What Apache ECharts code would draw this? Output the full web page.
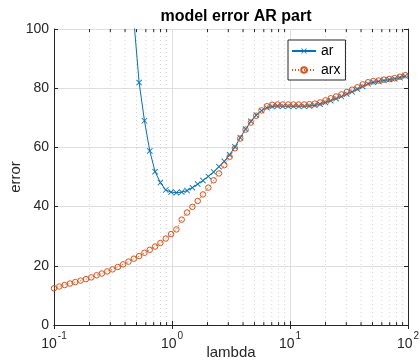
<!DOCTYPE html>
<html>
<head>
<meta charset="utf-8">
<script src="https://cdn.jsdelivr.net/npm/echarts@6/dist/echarts.min.js"></script>
<style>
  html, body { margin: 0; padding: 0; background: #fff; }
  #chart { width: 420px; height: 362px; }
</style>
</head>
<body>
<div id="chart"></div>
<script>
const lambda = [
  0.1, 0.1109, 0.1231, 0.1365, 0.1515, 0.168, 0.1865, 0.2069, 0.2295, 0.2546,
  0.2825, 0.3133, 0.3476, 0.3857, 0.4279, 0.4747, 0.5266, 0.5842, 0.6481, 0.719,
  0.7977, 0.885, 0.9822, 1.0897, 1.209, 1.341, 1.488, 1.651, 1.831, 2.032,
  2.254, 2.501, 2.774, 3.078, 3.414, 3.788, 4.202, 4.662, 5.172, 5.738,
  6.368, 7.066, 7.84, 8.694, 9.647, 10.7, 11.87, 13.17, 14.61, 16.21,
  17.99, 19.96, 22.14, 24.56, 27.26, 30.24, 33.55, 37.22, 41.29, 45.81,
  50.82, 56.39, 62.55, 69.4, 76.99, 85.42, 94.76
];

// "ar" error (values before lambda ~0.47 lie above the plotted range)
const arError = [
  null, null, null, null, null, null, null, null, null, null,
  null, null, null, null, 125, 103, 81.9, 69.0, 58.8, 51.8,
  48.1, 45.6, 44.9, 44.7, 44.9, 45.4, 46.4, 47.6, 48.8, 50.2,
  51.7, 53.5, 55.3, 57.5, 60.2, 63.3, 66.2, 68.8, 70.9, 72.4,
  73.4, 73.8, 74.0, 73.9, 73.9, 73.9, 73.9, 73.9, 74.0, 74.2,
  74.6, 75.2, 75.8, 76.5, 77.2, 78.0, 78.8, 79.7, 80.6, 81.5,
  82.0, 82.3, 82.6, 82.9, 83.2, 83.6, 84.1
];

// "arx" error
const arxError = [
  12.4, 13.0, 13.5, 14.0, 14.5, 15.0, 15.5, 16.1, 16.8, 17.4,
  18.1, 18.8, 19.6, 20.5, 21.4, 22.4, 23.3, 24.4, 25.4, 26.5,
  27.7, 29.2, 30.7, 32.3, 35.6, 38.0, 39.9, 41.9, 44.1, 46.4,
  48.9, 51.2, 54.0, 56.8, 59.7, 63.0, 66.0, 68.4, 70.7, 72.5,
  73.9, 74.4, 74.5, 74.5, 74.5, 74.5, 74.5, 74.5, 74.6, 74.8,
  75.2, 75.9, 76.6, 77.2, 77.9, 78.7, 79.5, 80.3, 81.3, 82.0,
  82.4, 82.6, 82.9, 83.1, 83.4, 83.9, 84.4
];

const yTicks = [0, 20, 40, 60, 80, 100];
const xMinorTicks = [0.2, 0.3, 0.4, 0.5, 0.6, 0.7, 0.8, 0.9,
  2, 3, 4, 5, 6, 7, 8, 9, 20, 30, 40, 50, 60, 70, 80, 90];

const axisColor = "#262626";
const font = "Liberation Sans, Arial, Helvetica, sans-serif";
const crossPath = "path://M0,1L1,0L5,4L9,0L10,1L6,5L10,9L9,10L5,6L1,10L0,9L4,5Z";

const chart = echarts.init(document.getElementById("chart"), null, { renderer: "canvas" });

const pairs = ys => lambda.map((x, i) => [x, ys[i]]);

const supLabel = v => {
  const e = Math.round(Math.log10(v));
  return "{b|10}{s|" + e + "}";
};

const option = {
  animation: false,
  backgroundColor: "#fff",
  title: {
    text: "model error AR part",
    left: 231,
    textAlign: "center",
    top: 4,
    textStyle: { fontFamily: font, fontSize: 16, fontWeight: "bold", color: "#000" }
  },
  grid: { left: 54, right: 12, top: 29, bottom: 37, containLabel: false, outerBoundsMode: "none" },
  legend: {
    left: 288,
    top: 40,
    orient: "vertical",
    itemWidth: 24,
    itemHeight: 7,
    itemGap: 5,
    padding: [4, 5, 3, 3],
    borderColor: axisColor,
    borderWidth: 1,
    borderRadius: 0,
    backgroundColor: "#fff",
    textStyle: { fontFamily: font, fontSize: 14, color: "#000" },
    data: ["ar", "arx"]
  },
  xAxis: [
    {
      type: "log",
      logBase: 10,
      min: 0.1,
      max: 100,
      name: "lambda",
      nameLocation: "middle",
      nameGap: 20,
      nameMoveOverlap: false,
      nameTextStyle: { fontFamily: font, fontSize: 15, color: axisColor },
      axisLine: { lineStyle: { color: axisColor, width: 1 } },
      axisTick: { inside: true, length: 4, lineStyle: { color: axisColor } },
      axisLabel: {
        formatter: supLabel,
        margin: 6,
        rich: {
          b: { fontFamily: font, fontSize: 14, color: axisColor, padding: [6, 0, 0, 0] },
          s: { fontFamily: font, fontSize: 10, color: axisColor, verticalAlign: "top", padding: [0, 0, 0, 1] }
        }
      },
      splitLine: { show: true, lineStyle: { color: "#dedede", width: 1 } }
    },
    {
      type: "log",
      logBase: 10,
      min: 0.1,
      max: 100,
      position: "top",
      axisLine: { lineStyle: { color: axisColor, width: 1 } },
      axisTick: { inside: true, length: 4, lineStyle: { color: axisColor } },
      axisLabel: { show: false },
      splitLine: { show: false }
    }
  ],
  yAxis: [
    {
      type: "value",
      min: 0,
      max: 100,
      interval: 20,
      name: "error",
      nameLocation: "middle",
      nameGap: 31,
      nameMoveOverlap: false,
      nameTextStyle: { fontFamily: font, fontSize: 15, color: axisColor },
      axisLine: { show: true, lineStyle: { color: axisColor, width: 1 } },
      axisTick: { show: true, inside: true, length: 4, lineStyle: { color: axisColor } },
      axisLabel: { fontFamily: font, fontSize: 14, color: axisColor, margin: 5 },
      splitLine: { show: true, lineStyle: { color: "#dedede", width: 1 } }
    },
    {
      type: "value",
      min: 0,
      max: 100,
      interval: 20,
      position: "right",
      axisLine: { show: true, lineStyle: { color: axisColor, width: 1 } },
      axisTick: { show: true, inside: true, length: 4, lineStyle: { color: axisColor } },
      axisLabel: { show: false },
      splitLine: { show: false }
    }
  ],
  series: [
    {
      // minor log grid + minor ticks
      type: "custom",
      silent: true,
      z: 1,
      data: xMinorTicks.map(v => [v]),
      encode: { x: 0 },
      renderItem: (params, api) => {
        const v = api.value(0);
        const b = api.coord([v, yTicks[0]]);
        const t = api.coord([v, yTicks[yTicks.length - 1]]);
        return {
          type: "group",
          children: [
            { type: "line", shape: { x1: b[0], y1: b[1], x2: t[0], y2: t[1] },
              style: { stroke: "#d4d4d4", lineWidth: 1, lineDash: [1, 3] } },
            { type: "line", shape: { x1: b[0], y1: b[1], x2: b[0], y2: b[1] - 3 },
              style: { stroke: axisColor, lineWidth: 1 } },
            { type: "line", shape: { x1: t[0], y1: t[1], x2: t[0], y2: t[1] + 3 },
              style: { stroke: axisColor, lineWidth: 1 } }
          ]
        };
      }
    },
    {
      name: "ar",
      type: "line",
      data: pairs(arError),
      clip: true,
      z: 3,
      symbol: crossPath,
      symbolSize: 6,
      lineStyle: { color: "#0072BD", width: 1 },
      itemStyle: { color: "#0072BD" }
    },
    {
      name: "arx",
      type: "line",
      data: pairs(arxError),
      clip: true,
      z: 4,
      symbol: "circle",
      symbolSize: 5.5,
      lineStyle: { color: "#D95319", width: 1, type: [1, 2] },
      itemStyle: { color: "rgba(0,0,0,0)", borderColor: "#D95319", borderWidth: 1 }
    }
  ]
};

chart.setOption(option);
</script>
</body>
</html>
